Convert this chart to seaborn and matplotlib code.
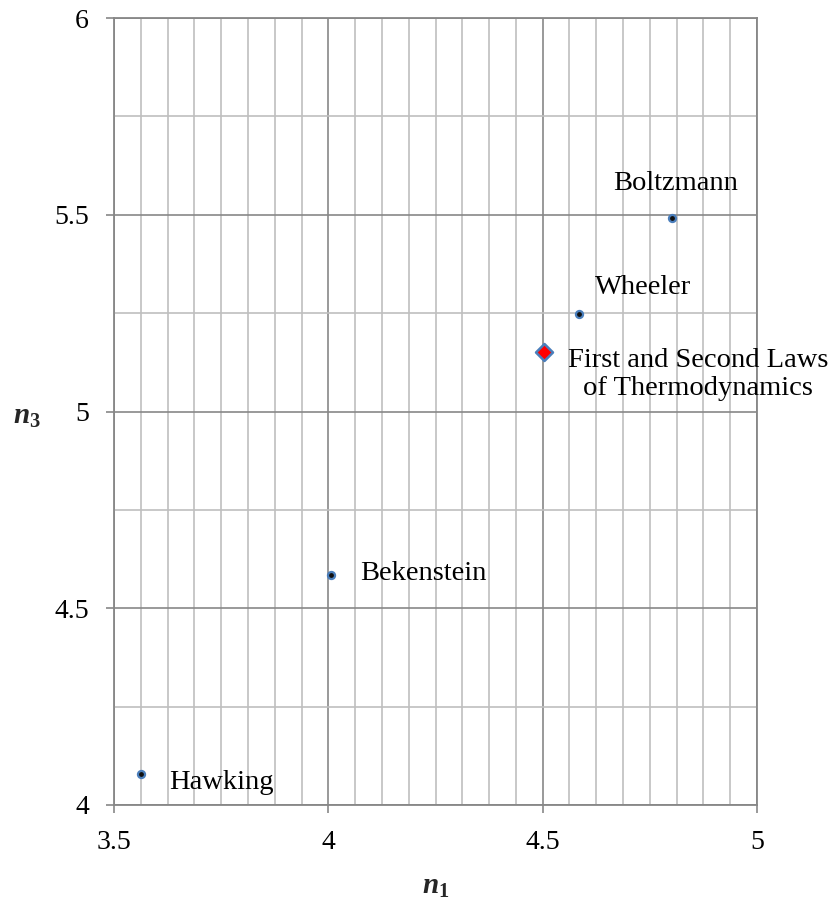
import numpy as np
import pandas as pd
import matplotlib
matplotlib.use("Agg")
import matplotlib.pyplot as plt
import seaborn as sns

# ---- data ----
names = ["Hawking", "Bekenstein", "First and Second Laws\nof Thermodynamics", "Wheeler", "Boltzmann"]
n1 = [3.562, 4.006, 4.503, 4.585, 4.801]
n3 = [4.078, 4.584, 5.152, 5.247, 5.491]
kind = ["point", "point", "law", "point", "point"]
x_ticks = [3.5, 4, 4.5, 5]
y_ticks = [4, 4.5, 5, 5.5, 6]
x_tick_labels = ["3.5", "4", "4.5", "5"]
y_tick_labels = ["4", "4.5", "5", "5.5", "6"]

df = pd.DataFrame({"name": names, "n1": n1, "n3": n3, "kind": kind})

# ---- style ----
sns.set_theme(style="white")
plt.rcParams["font.family"] = ["Liberation Serif", "DejaVu Serif"]
plt.rcParams["mathtext.fontset"] = "custom"
plt.rcParams["mathtext.it"] = "Liberation Serif:italic:bold"
plt.rcParams["mathtext.bf"] = "Liberation Serif:bold"
plt.rcParams["mathtext.rm"] = "Liberation Serif"

fig = plt.figure(figsize=(8.37, 9.02), dpi=100)
ax = fig.add_axes([114 / 837, 1 - 805 / 902, (757 - 114) / 837, (805 - 18) / 902])

major_c = "#878787"
minor_c = "#bfbfbf"

pts = df[df.kind == "point"]
law = df[df.kind == "law"]
sns.scatterplot(data=pts, x="n1", y="n3", ax=ax, marker="o", s=26,
                color="#111111", edgecolor="#4a7ebb", linewidth=1.6, zorder=5, legend=False)
sns.scatterplot(data=law, x="n1", y="n3", ax=ax, marker="D", s=75,
                color="#ff0000", edgecolor="#4a7ebb", linewidth=1.8, zorder=5, legend=False)

ax.set_xlim(3.5, 5)
ax.set_ylim(4, 6)
ax.set_xticks(x_ticks)
ax.set_xticklabels(x_tick_labels)
ax.set_yticks(y_ticks)
ax.set_yticklabels(y_tick_labels)
ax.set_xticks(np.arange(3.5, 5.0001, 0.0625), minor=True)
ax.set_yticks(np.arange(4, 6.0001, 0.25), minor=True)

ax.grid(which="major", color=major_c, linewidth=1.2)
ax.grid(which="minor", color=minor_c, linewidth=1.2)
ax.set_axisbelow(True)

for sp in ax.spines.values():
    sp.set_color(major_c)
    sp.set_linewidth(1.3)
    sp.set_visible(True)

ax.tick_params(axis="both", which="major", direction="out", length=6, width=1.2,
               color=major_c, labelsize=20, labelcolor="black", pad=12,
               bottom=True, left=True)
ax.tick_params(axis="both", which="minor", length=0)

ax.set_xlabel(r"$\mathit{n}_{\mathbf{1}}$", fontsize=21, labelpad=14)
ax.set_ylabel(r"$\mathit{n}_{\mathbf{3}}$", fontsize=21, rotation=0, va="center")
ax.yaxis.set_label_coords(-0.136, 0.5 - 6 / 787)

# label offsets in pixels (dx, dy), alignment
offsets = [(29, -8, "left"), (29, 2, "left"), (154, -23, "center"), (16, 27, "left"), (4, 35, "center")]
for (nm, x, y), (dx, dy, ha) in zip(zip(names, n1, n3), offsets):
    ax.annotate(nm, (x, y), xytext=(dx * 0.72, dy * 0.72), textcoords="offset points",
                ha=ha, va="center", multialignment="center", fontsize=20.5,
                color="black", linespacing=1.15, zorder=6)

fig.savefig("out.png", dpi=100)
